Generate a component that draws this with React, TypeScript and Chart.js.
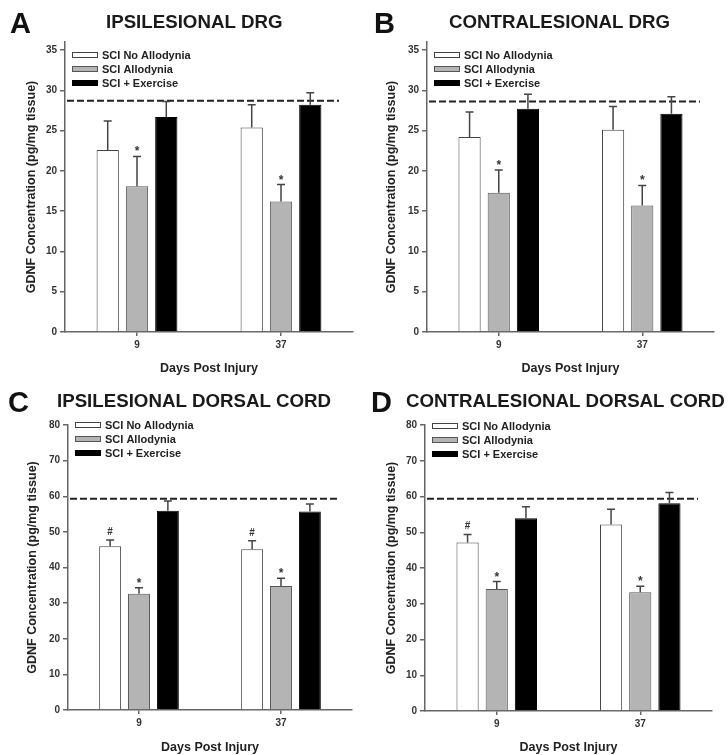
import React, { useEffect, useRef } from 'react';
import { Chart, registerables } from 'chart.js';

Chart.register(...registerables);

// ---------- data ----------
const categories = ['9', '37'];
const seriesLabels = ['SCI No Allodynia', 'SCI Allodynia', 'SCI + Exercise'];
const yAxisTitle = 'GDNF Concentration (pg/mg tissue)';
const xAxisTitle = 'Days Post Injury';

// Panel A – Ipsilesional DRG
const aNoAllodynia = [22.6, 25.4];
const aNoAllodyniaSem = [3.6, 2.8];
const aAllodynia = [18.1, 16.2];
const aAllodyniaSem = [3.7, 2.1];
const aExercise = [26.7, 28.2];
const aExerciseSem = [1.9, 1.5];
const aControl = 28.7;

// Panel B – Contralesional DRG
const bNoAllodynia = [24.2, 25.1];
const bNoAllodyniaSem = [3.1, 2.9];
const bAllodynia = [17.3, 15.7];
const bAllodyniaSem = [2.8, 2.5];
const bExercise = [27.7, 27.1];
const bExerciseSem = [1.8, 2.1];
const bControl = 28.6;

// Panel C – Ipsilesional dorsal cord
const cNoAllodynia = [46.0, 45.1];
const cNoAllodyniaSem = [1.7, 2.4];
const cAllodynia = [32.6, 34.8];
const cAllodyniaSem = [1.7, 2.2];
const cExercise = [55.9, 55.7];
const cExerciseSem = [2.8, 2.1];
const cControl = 59.3;

// Panel D – Contralesional dorsal cord
const dNoAllodynia = [47.1, 52.2];
const dNoAllodyniaSem = [2.3, 4.2];
const dAllodynia = [34.1, 33.2];
const dAllodyniaSem = [2.1, 1.7];
const dExercise = [53.9, 58.1];
const dExerciseSem = [3.2, 3.0];
const dControl = 59.4;

// y tick labels
const drgTicks = [0, 5, 10, 15, 20, 25, 30, 35];
const cordTicks = [0, 10, 20, 30, 40, 50, 60, 70, 80];

// significance marks
const allodyniaMarks = ['*', '*'];
const noMarks = ['', ''];
const cNoAllodyniaMarks = ['#', '#'];
const dNoAllodyniaMarks = ['#', ''];

// ---------- styles ----------
const FONT = '"Liberation Sans", Arial, Helvetica, sans-serif';
const TEXT = '#222';
const AXIS = '#666';
const FILLS = ['#ffffff', '#b4b4b4', '#000000'];
const BORDERS = ['#444444', '#555555', '#000000'];
const Y_W = 40;

type Panel = {
  letter: string;
  title: string;
  left: number;
  top: number;
  width: number;
  height: number;
  area: { l: number; r: number; t: number; b: number };
  yMax: number;
  yTicks: number[];
  series: number[][];
  sems: number[][];
  marks: string[][];
  control: number;
  letterPos: [number, number];
  titlePos: [number, number];
  yTitleX: number;
  xTitleY: number;
  legendDy: number;
};

const panels: Panel[] = [
  {
    letter: 'A', title: 'IPSILESIONAL DRG',
    left: 0, top: 0, width: 364, height: 377,
    area: { l: 65, r: 353, t: 42, b: 332 },
    yMax: 36, yTicks: drgTicks,
    series: [aNoAllodynia, aAllodynia, aExercise],
    sems: [aNoAllodyniaSem, aAllodyniaSem, aExerciseSem],
    marks: [noMarks, allodyniaMarks, noMarks],
    control: aControl,
    letterPos: [10, 33], titlePos: [106, 28],
    yTitleX: 32, xTitleY: 372, legendDy: 13,
  },
  {
    letter: 'B', title: 'CONTRALESIONAL DRG',
    left: 364, top: 0, width: 364, height: 377,
    area: { l: 63, r: 350, t: 42, b: 332 },
    yMax: 36, yTicks: drgTicks,
    series: [bNoAllodynia, bAllodynia, bExercise],
    sems: [bNoAllodyniaSem, bAllodyniaSem, bExerciseSem],
    marks: [noMarks, allodyniaMarks, noMarks],
    control: bControl,
    letterPos: [10, 33], titlePos: [85, 28],
    yTitleX: 28, xTitleY: 372, legendDy: 13,
  },
  {
    letter: 'C', title: 'IPSILESIONAL DORSAL CORD',
    left: 0, top: 377, width: 364, height: 378,
    area: { l: 68, r: 352, t: 48, b: 333 },
    yMax: 80, yTicks: cordTicks,
    series: [cNoAllodynia, cAllodynia, cExercise],
    sems: [cNoAllodyniaSem, cAllodyniaSem, cExerciseSem],
    marks: [cNoAllodyniaMarks, allodyniaMarks, noMarks],
    control: cControl,
    letterPos: [8, 35], titlePos: [57, 30],
    yTitleX: 33, xTitleY: 374, legendDy: 0,
  },
  {
    letter: 'D', title: 'CONTRALESIONAL DORSAL CORD',
    left: 364, top: 377, width: 364, height: 378,
    area: { l: 61, r: 348, t: 48, b: 334 },
    yMax: 80, yTicks: cordTicks,
    series: [dNoAllodynia, dAllodynia, dExercise],
    sems: [dNoAllodyniaSem, dAllodyniaSem, dExerciseSem],
    marks: [dNoAllodyniaMarks, allodyniaMarks, noMarks],
    control: dControl,
    letterPos: [7, 35], titlePos: [42, 30],
    yTitleX: 28, xTitleY: 374, legendDy: 1,
  },
];

function makeDecor(p: Panel) {
  return {
    id: 'decor' + p.letter,
    afterDatasetsDraw(chart: any) {
      const ctx = chart.ctx;
      const ys = chart.scales.y;
      const ca = chart.chartArea;
      ctx.save();
      // control dashed line
      const yc = ys.getPixelForValue(p.control);
      ctx.strokeStyle = '#222';
      ctx.lineWidth = 2;
      ctx.setLineDash([7, 3]);
      ctx.beginPath();
      ctx.moveTo(ca.left + 2, yc);
      ctx.lineTo(ca.right - 14, yc);
      ctx.stroke();
      ctx.setLineDash([]);
      // error bars + marks
      p.series.forEach((vals, di) => {
        const meta = chart.getDatasetMeta(di);
        meta.data.forEach((bar: any, i: number) => {
          const x = bar.x;
          const yTop = ys.getPixelForValue(vals[i] + p.sems[di][i]);
          ctx.strokeStyle = '#444';
          ctx.lineWidth = 1.5;
          ctx.beginPath();
          ctx.moveTo(x, bar.y);
          ctx.lineTo(x, yTop);
          ctx.moveTo(x - 4, yTop);
          ctx.lineTo(x + 4, yTop);
          ctx.stroke();
          const m = p.marks[di][i];
          if (m) {
            ctx.fillStyle = '#333';
            ctx.font = `bold ${m === '#' ? 10 : 12}px ${FONT}`;
            ctx.textAlign = 'center';
            ctx.textBaseline = 'alphabetic';
            ctx.fillText(m, x, yTop - (m === '#' ? 5 : 1));
          }
        });
      });
      ctx.restore();
    },
    afterDraw(chart: any) {
      const ctx = chart.ctx;
      const ca = chart.chartArea;
      ctx.save();
      ctx.fillStyle = '#111';
      ctx.textBaseline = 'alphabetic';
      ctx.textAlign = 'left';
      ctx.font = `bold 29px ${FONT}`;
      ctx.fillText(p.letter, p.letterPos[0], p.letterPos[1]);
      ctx.font = `bold 18.7px ${FONT}`;
      ctx.fillStyle = '#1a1a1a';
      ctx.fillText(p.title, p.titlePos[0], p.titlePos[1]);
      // axis titles
      ctx.fillStyle = TEXT;
      ctx.font = `bold 12.5px ${FONT}`;
      ctx.textAlign = 'center';
      ctx.fillText(xAxisTitle, (ca.left + ca.right) / 2, p.xTitleY);
      ctx.save();
      ctx.translate(p.yTitleX, (ca.top + ca.bottom) / 2);
      ctx.rotate(-Math.PI / 2);
      ctx.textBaseline = 'middle';
      ctx.fillText(yAxisTitle, 0, 0);
      ctx.restore();
      // legend
      ctx.font = `bold 11px ${FONT}`;
      ctx.textAlign = 'left';
      ctx.textBaseline = 'middle';
      seriesLabels.forEach((lab, i) => {
        const cy = ca.top + p.legendDy + i * 14;
        const bx = ca.left + 7;
        ctx.fillStyle = FILLS[i];
        ctx.fillRect(bx, cy - 3, 26, 6);
        ctx.strokeStyle = BORDERS[i];
        ctx.lineWidth = 1;
        ctx.strokeRect(bx + 0.5, cy - 2.5, 25, 5);
        ctx.fillStyle = TEXT;
        ctx.fillText(lab, bx + 30, cy + 0.5);
      });
      ctx.restore();
    },
  };
}

function PanelChart({ p }: { p: Panel }) {
  const ref = useRef<HTMLCanvasElement | null>(null);
  useEffect(() => {
    if (!ref.current) return;
    const tickFont = { family: FONT, size: 10, weight: 'bold' as const };
    const chart = new Chart(ref.current, {
      type: 'bar',
      data: {
        labels: categories,
        datasets: seriesLabels.map((lab, i) => ({
          label: lab,
          data: p.series[i],
          backgroundColor: FILLS[i],
          borderColor: BORDERS[i],
          borderWidth: 1,
          categoryPercentage: 0.61,
          barPercentage: 0.76,
        })),
      },
      options: {
        responsive: false,
        animation: false,
        layout: {
          padding: { left: p.area.l - Y_W, top: p.area.t, right: p.width - p.area.r, bottom: 0 },
        },
        plugins: {
          legend: { display: false },
          title: { display: false },
          tooltip: { enabled: false },
        },
        scales: {
          x: {
            offset: true,
            grid: { display: true, drawOnChartArea: false, offset: false, tickLength: 4, color: AXIS, lineWidth: 1.5 },
            border: { color: AXIS, width: 1.5 },
            ticks: { font: tickFont, color: '#333', padding: 3 },
            afterFit: (s: any) => { s.height = p.height - p.area.b; },
          },
          y: {
            min: 0,
            max: p.yMax,
            grid: { display: true, drawOnChartArea: false, tickLength: 5, color: AXIS, lineWidth: 1.5 },
            border: { color: AXIS, width: 1.5 },
            ticks: { font: tickFont, color: '#333', padding: 3 },
            afterFit: (s: any) => { s.width = Y_W; },
            afterBuildTicks: (s: any) => { s.ticks = p.yTicks.map((v) => ({ value: v })); },
          },
        },
      } as any,
      plugins: [makeDecor(p)],
    });
    return () => chart.destroy();
  }, [p]);
  return (
    <canvas
      ref={ref}
      width={p.width}
      height={p.height}
      style={{ position: 'absolute', left: p.left, top: p.top, width: p.width, height: p.height }}
    />
  );
}

export default function App() {
  return (
    <div style={{ position: 'absolute', left: 0, top: 0, width: 728, height: 755, background: '#fff' }}>
      {panels.map((p) => (
        <PanelChart key={p.letter} p={p} />
      ))}
    </div>
  );
}
